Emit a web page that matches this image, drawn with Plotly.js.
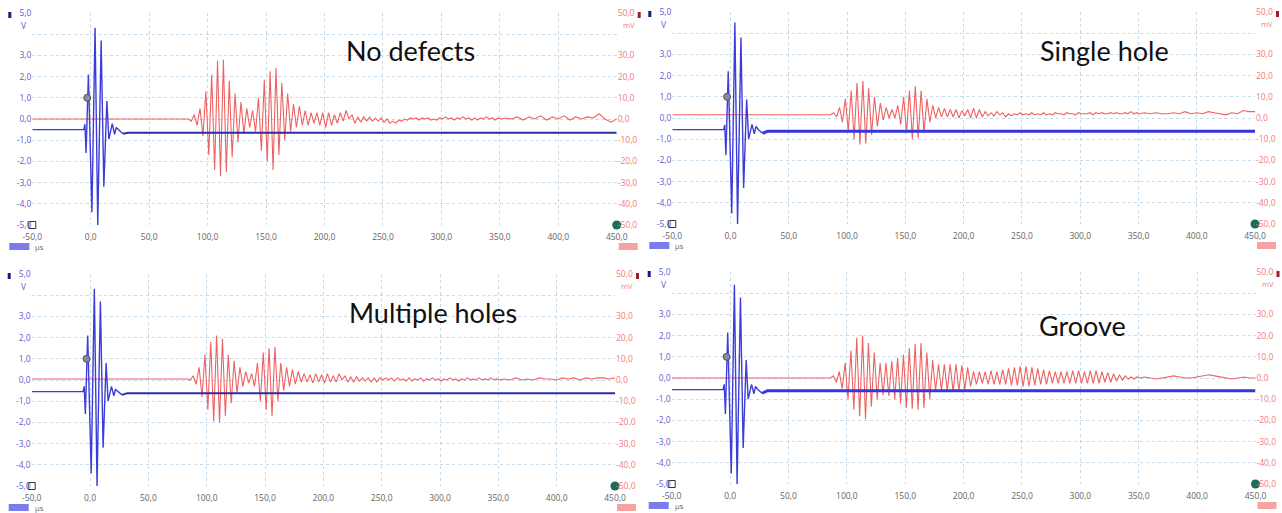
<!DOCTYPE html>
<html><head><meta charset="utf-8">
<script src="https://cdn.plot.ly/plotly-3.0.1.min.js"></script>
<style>html,body{margin:0;padding:0;background:#fff;} #chart{width:1282px;height:513px;}</style>
</head><body><div id="chart"></div>
<script>
// ---------- DATA ----------
const PANEL_TITLES = ['No defects', 'Single hole', 'Multiple holes', 'Groove'];
const X_TICKS = [-50, 0, 50, 100, 150, 200, 250, 300, 350, 400, 450];
const X_TICK_TEXT = ['-50,0','0,0','50,0','100,0','150,0','200,0','250,0','300,0','350,0','400,0','450,0'];
const V_TICKS = [-5, -4, -3, -2, -1, 0, 1, 2, 3, 4, 5];
const V_TICK_TEXT = ['-5,0','-4,0','-3,0','-2,0','-1,0','0,0','1,0','2,0','3,0','','5,0'];
const MV_TICKS = [-50, -40, -30, -20, -10, 0, 10, 20, 30, 40, 50];
const MV_TICK_TEXT = ['-50,0','-40,0','-30,0','-20,0','-10,0','0,0','10,0','20,0','30,0','','50,0'];

// excitation (blue, V) - time in µs
const T_BLUE = [-50, -6, -5, -4, -2, 1, 3.7, 6, 8.9, 11.2, 13.8, 15.5, 18.4, 20.4, 21.8, 24, 27.5, 32, 450];
const BLUE_NO_DEFECTS = [-0.5, -0.5, -0.25, -1.6, 2.1, -4.4, 4.3, -5.0, 3.7, -3.2, 0.85, -0.95, -0.22, -0.72, -0.4, -0.5, -0.7, -0.65, -0.65];
const BLUE_SINGLE_HOLE = [-0.55, -0.55, -0.33, -1.75, 2.2, -4.5, 4.5, -5.0, 3.8, -3.3, 0.87, -1.0, -0.3, -0.75, -0.4, -0.55, -0.72, -0.62, -0.62];
const BLUE_MULTIPLE_HOLES = [-0.55, -0.55, -0.3, -1.6, 2.1, -4.4, 4.3, -5.0, 3.7, -3.2, 0.8, -1.0, -0.3, -0.75, -0.45, -0.55, -0.7, -0.62, -0.62];
const BLUE_GROOVE = [-0.55, -0.55, -0.3, -1.7, 2.15, -4.5, 4.4, -5.0, 3.8, -3.3, 0.85, -1.0, -0.3, -0.75, -0.4, -0.55, -0.72, -0.6, -0.6];

// received signal (red, mV) - time in µs
const T_RED = [-50, 80,
 83.5, 86, 88.5, 91, 93.5, 96, 98.5, 101, 103.5, 106,
 108.5, 111, 113.5, 116, 118.5, 121, 123.5, 126, 128.5, 131,
 133.5, 136, 138.5, 141, 143.5, 146, 148.5, 151, 153.5, 156,
 158.5, 161, 163.5, 166, 168.5, 171, 173.5, 176, 178.5, 181,
 183.5, 186, 188.5, 191, 193.5, 196, 198.5, 201, 203.5, 206,
 208.5, 211, 213.5, 216, 218.5, 221, 223.5, 226, 228.5, 231,
 233.5, 236, 238.5, 241, 243.5, 246, 248.5, 251, 253.5, 256,
 258.5, 261, 263.5, 266, 268.5, 271, 273.5, 276, 278.5, 281,
 283.5, 286, 288.5, 291, 293.5, 296, 298.5, 301, 303.5, 306,
 308.5, 311, 313.5, 316, 318.5, 321, 323.5, 326, 328.5, 331,
 333.5, 336, 338.5, 341, 343.5, 346, 348.5, 351,
 355, 360, 365, 370, 375, 380, 385, 390, 395, 400,
 405, 410, 415, 420, 425, 430, 435, 440, 445, 450];

const RED_NO_DEFECTS = [0, 0,
 0, -1, 2, -3, 5, -8, 13, -17, 21, -24,
 27.5, -27, 28, -25, 18, -18, 12, -11, 8, -7,
 5, -4, 4, -6, 10, -15, 18.5, -20, 22.5, -24,
 24, -17, 17, -10, 12, -6, 7, -4, 6, -3,
 4, -3, 3, -2, 3, -3, 3, -4, 3, -3,
 2, -2, 3, -1, 4, 0, 2, -2, 1, -1.5,
 1, -1, 1, -1, 0.5, -1, 0.5, -1.5, 0, -2,
 -1, -2, -0.5, -1, 0, -0.5, 0.5, 0, 0.5, -0.5,
 0.5, 0, 0.5, -0.5, 0, -0.5, 0.5, 0, 1, 0,
 0.5, -0.5, 0.5, 0, 1, 0, 0.5, -0.5, 0.5, -0.5,
 0.5, 0, 1, 0, 0.5, -0.5, 0.5, 0,
 0.5, 0, 1, -0.5, 1, 0, 1.5, -0.5, 1, 0,
 1.5, -0.5, 1, 0, 1, 0.5, 2.5, 0, -1.5, 0];

const RED_SINGLE_HOLE = [1.5, 1.5,
 1.5, 1.5, 2.5, 0.5, 5, -2, 9, -6, 13, -10,
 16.5, -12.5, 17.5, -12, 14, -8, 10, -4, 7, -1,
 5, 0, 4, 0, 6, -3, 10, -7, 13, -10,
 15, -9.5, 13, -7, 9, -2, 6, 0, 5, 0.5,
 4.5, 0.5, 4, 0.5, 4, 0, 3.5, 1, 4, 0,
 4.5, 0, 4, 0.5, 3, 1, 2.5, 1, 3, 1.5,
 2.5, 0.5, 2, 1, 2, 1.5, 2.5, 1.5, 2, 1.5,
 2.5, 1.5, 2, 1.5, 2.5, 1.5, 2, 1.5, 2.5, 2,
 2, 1.5, 2.5, 2, 2, 1.5, 2.5, 2, 2, 2,
 2.5, 1.5, 2.5, 2, 2.5, 2, 2, 2.5, 2, 2.5,
 2, 2, 2.5, 2, 3, 2, 2.5, 2,
 2.5, 2, 2.5, 2, 2, 2.5, 2, 3, 2, 2.5,
 2, 3, 2.5, 2, 1.5, 2.5, 2, 3.5, 3, 3];

const RED_MULTIPLE_HOLES = [0.5, 0.5,
 0.5, 0, 2, -2, 6, -8, 12, -14, 18, -19.5,
 21, -20, 19.5, -17, 12, -11, 9, -6, 6, -3,
 4, -1.5, 3, -3, 8, -10, 13, -14, 15, -17,
 15.5, -10, 8, -5, 6, -3, 5, -2, 4, -1,
 3, -1, 2.5, -1.5, 3, -1, 2.5, -1.5, 3, -1,
 2, -1, 3, 0, 2, -1, 1.5, -1, 1.5, -0.5,
 1, -0.5, 1, -1, 1, -1, 1, 0, 1, 0,
 1, -0.5, 1, 0, 0.5, -0.5, 1, -0.5, 0.5, 0,
 1, -0.5, 0.5, 0, 1, 0, 0.5, -0.5, 0.5, 0,
 1, 0, 0.5, -0.5, 0.5, 0, 1, 0, 0.5, 0,
 1, 0, 0.5, 0, 1, 0, 0.5, 0,
 0.5, 0, 1, 0, 0.5, 0, 1, 0.5, 0.5, 0,
 1, 0.5, 1, 0, 1, 0.5, 1, 1, 0.5, 1];

const RED_GROOVE = [0, 0,
 0, 0, 1, -2, 3, -5, 7, -10, 13, -15,
 19, -18, 20, -19.5, 16.5, -13.5, 12, -10, 7, -8,
 7, -8.5, 8, -10, 9.5, -12, 11, -14, 14, -14.5,
 16, -15, 16.5, -14, 12, -10, 8.5, -6, 6.5, -6,
 6.5, -6, 6.5, -6.5, 6.5, -6, 6, -5.5, 5, -4,
 3, -3, 3, -2.5, 3, -3, 3.5, -3, 3, -3,
 4, -3, 4.5, -3.5, 5, -3.5, 5.5, -4, 5.5, -4,
 5, -3.5, 4.5, -3, 4, -3, 3.5, -2.5, 3, -2.5,
 3, -2.5, 3, -2.5, 3.5, -2.5, 3.5, -2.5, 3, -2.5,
 3.5, -2.5, 3.5, -2.5, 3, -2, 2.5, -2, 2, -1.5,
 1.5, -1, 1, -0.5, 0.5, -0.5, 0.5, 0,
 0.5, 0, -0.5, 0, 0.5, 1, 0.5, 0, 0, 0.5,
 1, 1.5, 1, 0.5, 0, -0.5, 0, 0.5, 0, 0];

// ---------- LAYOUT / STYLE ----------
const W = 1282, H = 513;
const px = x => x / W;
const py = y => 1 - y / H;

const panels = [
  {title: PANEL_TITLES[0], blue: BLUE_NO_DEFECTS, red: RED_NO_DEFECTS, x0: 32.3, x1: 616.7, y0: 13, y1: 225, heavy: false, tx: 410, ty: 50},
  {title: PANEL_TITLES[1], blue: BLUE_SINGLE_HOLE, red: RED_SINGLE_HOLE, x0: 672.3, x1: 1255, y0: 12, y1: 224, heavy: true, tx: 1104, ty: 50},
  {title: PANEL_TITLES[2], blue: BLUE_MULTIPLE_HOLES, red: RED_MULTIPLE_HOLES, x0: 31.7, x1: 615, y0: 274, y1: 486, heavy: false, tx: 433, ty: 312},
  {title: PANEL_TITLES[3], blue: BLUE_GROOVE, red: RED_GROOVE, x0: 671.7, x1: 1255.5, y0: 272, y1: 484, heavy: true, tx: 1082, ty: 325}
];

const RED = '#ee6262';
const BLUE = '#3c3cd8';
const GRID = 'rgba(175,202,225,0.7)';
const tickFont = {family: 'Open Sans, Noto Sans, sans-serif', size: 8.5};

const traces = [];
const layout = {
  width: W, height: H, margin: {l: 0, r: 0, t: 0, b: 0},
  paper_bgcolor: '#fff', plot_bgcolor: '#fff', showlegend: false,
  annotations: [], shapes: []
};

panels.forEach((p, i) => {
  const n = i + 1;
  const xid = n === 1 ? 'x' : 'x' + n;
  const mvN = 2 * i + 1, vN = 2 * i + 2;
  const mvid = mvN === 1 ? 'y' : 'y' + mvN;
  const vid = 'y' + vN;
  const xkey = n === 1 ? 'xaxis' : 'xaxis' + n;
  const mvkey = mvN === 1 ? 'yaxis' : 'yaxis' + mvN;
  const vkey = 'yaxis' + vN;
  const xdom = [px(p.x0), px(p.x1)];
  const ydom = [py(p.y1), py(p.y0)];

  layout[xkey] = {domain: xdom, anchor: mvid, range: [-50, 450], tickvals: X_TICKS, ticktext: X_TICK_TEXT,
    showgrid: true, gridcolor: GRID, griddash: 'dot', gridwidth: 1, zeroline: false, showline: false,
    ticks: '', ticklen: 0, ticklabelstandoff: 5, tickfont: Object.assign({color: '#666'}, tickFont), fixedrange: true};
  layout[mvkey] = {domain: ydom, anchor: xid, side: 'right', range: [-50, 50], tickvals: MV_TICKS, ticktext: MV_TICK_TEXT,
    showgrid: true, gridcolor: GRID, griddash: 'dot', gridwidth: 1, zeroline: false, showline: false,
    ticks: '', tickfont: Object.assign({color: '#f07c7c'}, tickFont), fixedrange: true};
  layout[vkey] = {overlaying: mvid, anchor: xid, side: 'left', range: [-5, 5], tickvals: V_TICKS, ticktext: V_TICK_TEXT,
    showgrid: false, zeroline: false, showline: false,
    ticks: '', tickfont: Object.assign({color: '#6060d0'}, tickFont), fixedrange: true};

  // red received signal
  traces.push({x: T_RED, y: p.red, xaxis: xid, yaxis: mvid, mode: 'lines', type: 'scatter',
    line: {color: RED, width: 1.1}, hoverinfo: 'skip'});

  const k = T_BLUE.indexOf(27.5);
  // blue excitation burst
  traces.push({x: T_BLUE.slice(0, k + 1), y: p.blue.slice(0, k + 1), xaxis: xid, yaxis: vid, mode: 'lines', type: 'scatter',
    line: {color: BLUE, width: 1.4}, hoverinfo: 'skip'});
  // blue tail (after ringing)
  traces.push({x: T_BLUE.slice(k), y: p.blue.slice(k), xaxis: xid, yaxis: vid, mode: 'lines', type: 'scatter',
    line: {color: p.heavy ? '#3434e0' : '#2c2ca8', width: p.heavy ? 3 : 2}, hoverinfo: 'skip'});
  // trigger marker
  traces.push({x: [-3], y: [1.0], xaxis: xid, yaxis: vid, mode: 'markers', type: 'scatter',
    marker: {size: 7, color: '#8a8a9a', line: {color: '#555', width: 1}}, hoverinfo: 'skip', cliponaxis: false});
  // bottom-left square and bottom-right dot
  traces.push({x: [-50], y: [-5], xaxis: xid, yaxis: vid, mode: 'markers', type: 'scatter',
    marker: {size: 7, symbol: 'square', color: '#fff', line: {color: '#333', width: 1}}, hoverinfo: 'skip', cliponaxis: false});
  traces.push({x: [450], y: [-50], xaxis: xid, yaxis: mvid, mode: 'markers', type: 'scatter',
    marker: {size: 9, color: '#1d6b5c'}, hoverinfo: 'skip', cliponaxis: false});

  // units
  layout.annotations.push({xref: 'paper', yref: 'paper', x: px(p.x0 - 3), y: py(p.y0 + 12), xanchor: 'right', yanchor: 'middle',
    text: 'V', showarrow: false, font: {family: 'Open Sans, sans-serif', size: 8.5, color: '#6060d0'}});
  layout.annotations.push({xref: 'paper', yref: 'paper', x: px(p.x1 + 4), y: py(p.y0 + 12), xanchor: 'left', yanchor: 'middle',
    text: 'mV', showarrow: false, font: {family: 'Open Sans, sans-serif', size: 7.5, color: '#f07c7c'}});
  layout.annotations.push({xref: 'paper', yref: 'paper', x: px(p.x0 + 1), y: py(p.y1 + 21.5), xanchor: 'left', yanchor: 'middle',
    text: 'µs', showarrow: false, font: {family: 'Open Sans, sans-serif', size: 7.5, color: '#666'}});
  // panel title
  layout.annotations.push({xref: 'paper', yref: 'paper', x: px(p.tx), y: py(p.ty), xanchor: 'center', yanchor: 'middle',
    text: p.title, showarrow: false, font: {family: 'Lato, Open Sans, sans-serif', size: 27, color: '#111'}});

  // channel badges and markers
  layout.shapes.push({type: 'rect', xref: 'paper', yref: 'paper', x0: px(p.x0 - 23), x1: px(p.x0 - 3), y0: py(p.y1 + 25), y1: py(p.y1 + 18),
    fillcolor: '#7b7bea', line: {width: 0}});
  layout.shapes.push({type: 'rect', xref: 'paper', yref: 'paper', x0: px(p.x1 + 2), x1: px(p.x1 + 21), y0: py(p.y1 + 25), y1: py(p.y1 + 18),
    fillcolor: '#f4a2a2', line: {width: 0}});
  layout.shapes.push({type: 'rect', xref: 'paper', yref: 'paper', x0: px(p.x0 - 24), x1: px(p.x0 - 21), y0: py(p.y0 + 5), y1: py(p.y0 - 1),
    fillcolor: '#1c1c80', line: {width: 0}});
  layout.shapes.push({type: 'rect', xref: 'paper', yref: 'paper', x0: px(p.x1 + 21), x1: px(p.x1 + 24), y0: py(p.y0 + 5), y1: py(p.y0 - 1),
    fillcolor: '#a01c2c', line: {width: 0}});
});

Plotly.newPlot('chart', traces, layout, {staticPlot: true, displayModeBar: false});
</script>
</body></html>
